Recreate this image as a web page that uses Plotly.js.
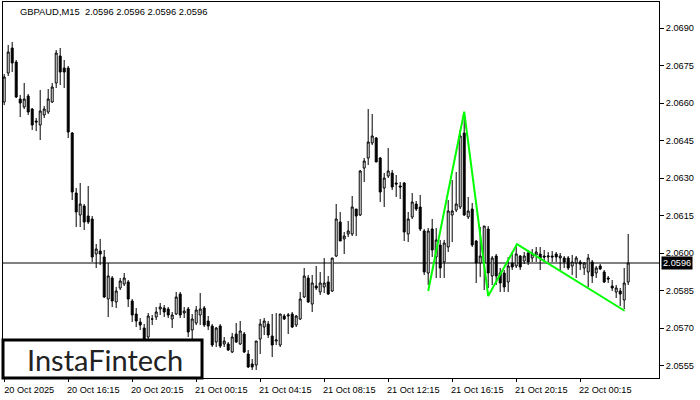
<!DOCTYPE html>
<html>
<head>
<meta charset="utf-8">
<script src="https://cdn.plot.ly/plotly-3.0.1.min.js"></script>
<style>html,body{margin:0;padding:0;background:#fff;}#chart{width:700px;height:400px;}</style>
</head>
<body>
<div id="chart"></div>
<script>
// GBPAUD M15 candles, 20 Oct 12:15 .. 22 Oct 03:15
const openP = [2.06604,2.06720,2.06820,2.06764,2.06616,2.06584,2.06628,2.06576,2.06528,2.06512,
2.06552,2.06564,2.06604,2.06680,2.06788,2.06740,2.06740,2.06480,2.06240,2.06152,
2.06188,2.06148,2.06136,2.05996,2.06008,2.05984,2.05816,2.05900,2.05804,2.05860,
2.05876,2.05884,2.05808,2.05756,2.05724,2.05700,2.05664,2.05736,2.05744,2.05776,
2.05780,2.05776,2.05736,2.05756,2.05836,2.05760,2.05776,2.05692,2.05720,2.05752,
2.05780,2.05728,2.05708,2.05644,2.05708,2.05636,2.05636,2.05604,2.05676,2.05636,
2.05676,2.05596,2.05556,2.05552,2.05656,2.05704,2.05716,2.05668,2.05648,2.05632,
2.05748,2.05748,2.05756,2.05712,2.05736,2.05824,2.05900,2.05796,2.05868,2.05844,
2.05864,2.05884,2.05848,2.05988,2.06124,2.06056,2.06076,2.06076,2.06176,2.06152,
2.06340,2.06380,2.06440,2.06460,2.06380,2.06260,2.06308,2.06320,2.06280,2.06268,
2.06280,2.06076,2.06144,2.06196,2.06184,2.06088,2.05920,2.06096,2.05984,2.06032,
2.05964,2.06024,2.06152,2.06172,2.06184,2.06480,2.06144,2.06176,2.06048,2.05960,
2.05960,2.06096,2.05908,2.05988,2.05920,2.05920,2.05884,2.05960,2.05948,2.05988,
2.05968,2.06000,2.05980,2.05992,2.05996,2.05988,2.05984,2.05988,2.05996,2.05980,
2.05980,2.05980,2.05948,2.05960,2.05964,2.05940,2.05924,2.05964,2.05920,2.05948,
2.05924,2.05900,2.05868,2.05844,2.05848,2.05812,2.05884];
const highP = [2.06716,2.06832,2.06844,2.06772,2.06632,2.06680,2.06636,2.06580,2.06540,2.06652,
2.06588,2.06656,2.06680,2.06812,2.06820,2.06772,2.06748,2.06484,2.06260,2.06280,
2.06196,2.06268,2.06148,2.06036,2.06056,2.06012,2.05960,2.05908,2.05864,2.05900,
2.05920,2.05892,2.05816,2.05780,2.05740,2.05716,2.05760,2.05752,2.05784,2.05800,
2.05792,2.05784,2.05764,2.05844,2.05844,2.05784,2.05784,2.05756,2.05788,2.05840,
2.05788,2.05748,2.05716,2.05704,2.05716,2.05664,2.05644,2.05680,2.05720,2.05728,
2.05684,2.05612,2.05576,2.05648,2.05736,2.05740,2.05728,2.05756,2.05760,2.05756,
2.05756,2.05760,2.05764,2.05752,2.05844,2.05940,2.05912,2.05912,2.05948,2.05924,
2.05980,2.05908,2.05980,2.06196,2.06164,2.06084,2.06128,2.06228,2.06176,2.06332,
2.06380,2.06576,2.06556,2.06464,2.06384,2.06320,2.06420,2.06332,2.06312,2.06284,
2.06284,2.06164,2.06240,2.06208,2.06232,2.06096,2.06100,2.06136,2.06100,2.06052,
2.06052,2.06212,2.06292,2.06324,2.06492,2.06560,2.06224,2.06200,2.06052,2.06104,
2.06108,2.06108,2.05988,2.05996,2.05940,2.05932,2.05984,2.06004,2.06032,2.05992,
2.06004,2.06012,2.06016,2.06024,2.06024,2.06012,2.06004,2.06008,2.06004,2.06000,
2.05988,2.05988,2.05992,2.05988,2.05972,2.05964,2.05996,2.05972,2.05948,2.05956,
2.05932,2.05908,2.05892,2.05872,2.05860,2.05940,2.06076];
const lowP = [2.06592,2.06708,2.06724,2.06620,2.06544,2.06576,2.06552,2.06492,2.06488,2.06452,
2.06540,2.06556,2.06600,2.06660,2.06672,2.06660,2.06460,2.06212,2.06104,2.06104,
2.06092,2.06116,2.05964,2.05940,2.05952,2.05820,2.05744,2.05784,2.05780,2.05852,
2.05868,2.05784,2.05724,2.05704,2.05692,2.05632,2.05652,2.05712,2.05732,2.05752,
2.05744,2.05740,2.05700,2.05752,2.05740,2.05740,2.05664,2.05652,2.05712,2.05712,
2.05704,2.05692,2.05624,2.05624,2.05620,2.05624,2.05608,2.05600,2.05640,2.05632,
2.05600,2.05540,2.05532,2.05532,2.05596,2.05672,2.05660,2.05584,2.05632,2.05624,
2.05732,2.05676,2.05700,2.05704,2.05732,2.05820,2.05800,2.05764,2.05852,2.05832,
2.05840,2.05832,2.05844,2.05984,2.06048,2.05996,2.06064,2.06068,2.06068,2.06148,
2.06284,2.06352,2.06432,2.06364,2.06204,2.06184,2.06300,2.06252,2.06224,2.06216,
2.06048,2.06044,2.06136,2.06168,2.06088,2.05912,2.05872,2.05984,2.05900,2.05900,
2.05900,2.06004,2.06044,2.06164,2.06176,2.06148,2.06136,2.06024,2.05880,2.05904,
2.05852,2.05860,2.05872,2.05872,2.05844,2.05844,2.05844,2.05932,2.05940,2.05932,
2.05956,2.05952,2.05964,2.05964,2.05932,2.05964,2.05964,2.05964,2.05964,2.05932,
2.05940,2.05932,2.05912,2.05900,2.05932,2.05912,2.05864,2.05880,2.05900,2.05932,
2.05880,2.05880,2.05848,2.05820,2.05788,2.05776,2.05872];
const closeP = [2.06704,2.06804,2.06760,2.06624,2.06600,2.06616,2.06564,2.06512,2.06524,2.06568,
2.06576,2.06616,2.06664,2.06800,2.06724,2.06724,2.06484,2.06244,2.06164,2.06196,
2.06124,2.06124,2.05984,2.06016,2.05996,2.05824,2.05908,2.05808,2.05848,2.05888,
2.05900,2.05816,2.05752,2.05728,2.05712,2.05652,2.05748,2.05736,2.05764,2.05784,
2.05764,2.05752,2.05752,2.05824,2.05752,2.05768,2.05684,2.05736,2.05772,2.05776,
2.05712,2.05708,2.05632,2.05700,2.05628,2.05648,2.05612,2.05664,2.05644,2.05688,
2.05604,2.05544,2.05544,2.05648,2.05716,2.05728,2.05672,2.05632,2.05652,2.05756,
2.05736,2.05752,2.05704,2.05748,2.05816,2.05908,2.05804,2.05880,2.05860,2.05880,
2.05880,2.05836,2.05980,2.06136,2.06048,2.06068,2.06088,2.06184,2.06148,2.06328,
2.06368,2.06444,2.06468,2.06364,2.06244,2.06300,2.06328,2.06264,2.06276,2.06264,
2.06084,2.06136,2.06204,2.06176,2.06096,2.05924,2.06088,2.06012,2.06052,2.05940,
2.06040,2.06168,2.06168,2.06196,2.06468,2.06152,2.06168,2.06032,2.05960,2.05988,
2.06108,2.05920,2.05980,2.05908,2.05880,2.05864,2.05948,2.05944,2.05996,2.05944,
2.05988,2.05964,2.05996,2.06004,2.05980,2.05984,2.05988,2.05984,2.05984,2.05988,
2.05964,2.05940,2.05964,2.05980,2.05956,2.05960,2.05980,2.05908,2.05940,2.05936,
2.05884,2.05896,2.05860,2.05860,2.05836,2.05880,2.05960];

// time axis labels (every 16 bars = 4 hours)
const timeLabels = ["20 Oct 2025","20 Oct 16:15","20 Oct 20:15","21 Oct 00:15","21 Oct 04:15",
  "21 Oct 08:15","21 Oct 12:15","21 Oct 16:15","21 Oct 20:15","22 Oct 00:15"];
const labelBars = [0,16,32,48,64,80,96,112,128,144];

// price axis ticks
const priceTicks = [2.0555,2.0570,2.0585,2.0600,2.0615,2.0630,2.0645,2.0660,2.0675,2.0690];

// pattern (green) line: bar positions and prices
const patternBars = [106,115,121,128.2,155.1];
const patternPrices = [2.05848,2.06565,2.05828,2.06035,2.05769];

const lastPrice = 2.0596;
const symbolText = "GBPAUD,M15  2.0596 2.0596 2.0596 2.0596";
const logoText = "InstaFintech";

const bars = openP.map((_, i) => i);
const FONT = "Liberation Sans, Arial, sans-serif";

const traces = [
  {
    type: "candlestick",
    x: bars, open: openP, high: highP, low: lowP, close: closeP,
    increasing: {line: {color: "#000000", width: 1}, fillcolor: "#ffffff"},
    decreasing: {line: {color: "#000000", width: 1}, fillcolor: "#000000"},
    whiskerwidth: 0,
    hoverinfo: "skip",
    showlegend: false
  },
  {
    type: "scatter", mode: "lines",
    x: patternBars, y: patternPrices,
    line: {color: "#00ff00", width: 2},
    hoverinfo: "skip", showlegend: false
  }
];

const layout = {
  width: 700, height: 400,
  margin: {l: 3, r: 41, t: 2, b: 22, pad: 0},
  paper_bgcolor: "#ffffff", plot_bgcolor: "#ffffff",
  showlegend: false,
  xaxis: {
    range: [-0.3, 163.7],
    showgrid: false, zeroline: false,
    showline: true, linecolor: "#000000", linewidth: 1, mirror: true,
    ticks: "outside", ticklen: 3, tickcolor: "#000000",
    tickmode: "array", tickvals: labelBars, ticktext: timeLabels,
    tickfont: {family: FONT, size: 9.2, color: "#000000"},
    ticklabelshift: 25,
    rangeslider: {visible: false},
    fixedrange: true
  },
  yaxis: {
    side: "right",
    range: [2.0550, 2.07004],
    showgrid: false, zeroline: false,
    showline: true, linecolor: "#000000", linewidth: 1, mirror: true,
    ticks: "outside", ticklen: 4, tickcolor: "#000000",
    tickmode: "array", tickvals: priceTicks,
    tickformat: ".4f",
    tickfont: {family: FONT, size: 9.2, color: "#000000"},
    fixedrange: true
  },
  shapes: [
    {type: "line", xref: "paper", x0: 0, x1: 1, yref: "y", y0: lastPrice, y1: lastPrice,
     line: {color: "#000000", width: 1}, layer: "below"},
    {type: "rect", xref: "paper", yref: "paper", x0: 0, x1: 0.3034, y0: 0, y1: 0.101,
     line: {color: "#000000", width: 3}, fillcolor: "#ffffff", layer: "above"}
  ],
  annotations: [
    {xref: "paper", yref: "paper", x: 0.0229, y: 0.976, xanchor: "left", yanchor: "middle",
     text: symbolText, showarrow: false, font: {family: FONT, size: 9.4, color: "#000000"}},
    {xref: "paper", yref: "y", x: 1, y: lastPrice, xanchor: "left", yanchor: "middle", xshift: 2,
     text: lastPrice.toFixed(4), showarrow: false, bgcolor: "#000000", borderpad: 1,
     font: {family: FONT, size: 9.2, color: "#ffffff"}},
    {xref: "paper", yref: "paper", x: 0.155, y: 0.0505, xanchor: "center", yanchor: "middle",
     text: logoText, showarrow: false, font: {family: "Lato, sans-serif", size: 29, color: "#222222"}}
  ]
};

Plotly.newPlot("chart", traces, layout, {displayModeBar: false, staticPlot: true});
</script>
</body>
</html>
